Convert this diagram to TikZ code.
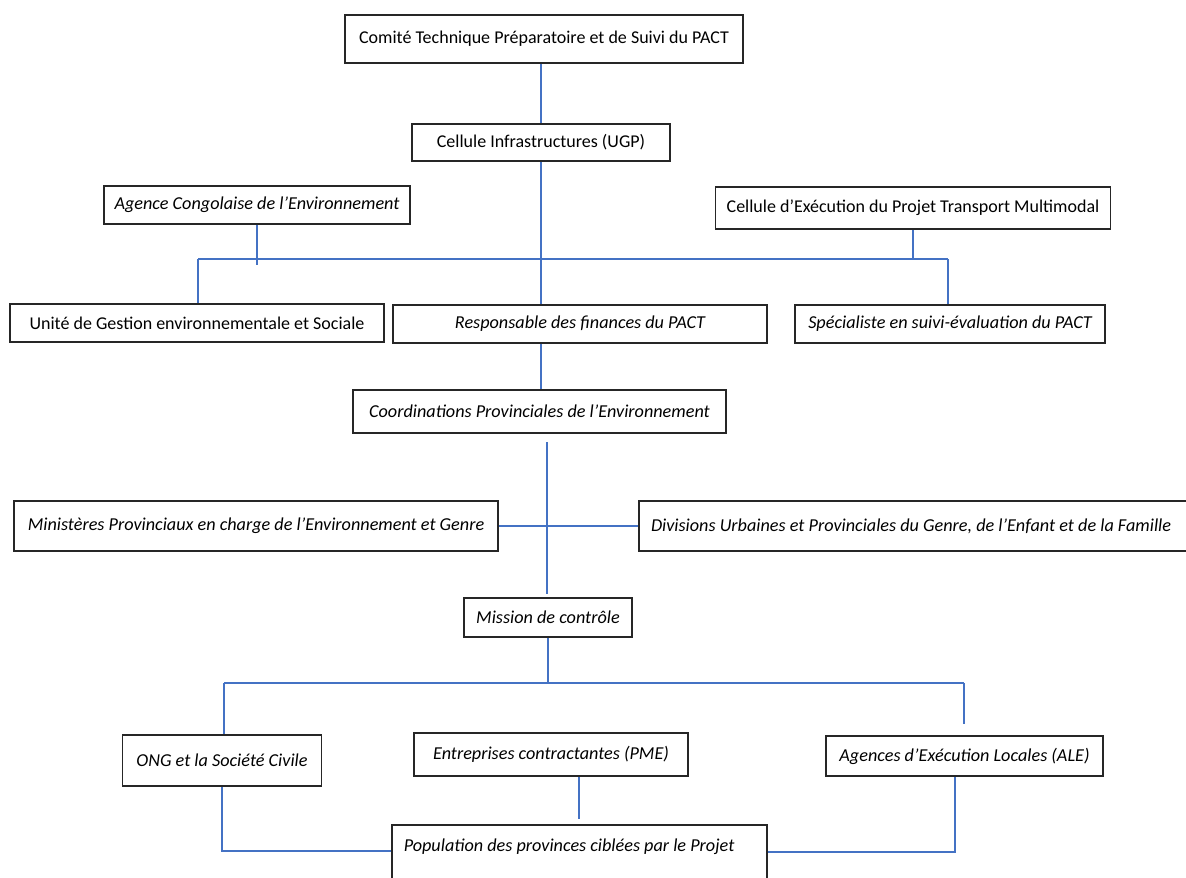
\documentclass[tikz,border=0pt]{standalone}
\usepackage{fontspec}
\setmainfont{Carlito}
\definecolor{linkblue}{HTML}{4472C4}
\definecolor{boxline}{HTML}{262626}
\begin{document}
\begin{tikzpicture}[x=1pt,y=-1pt,
  box/.style={draw=boxline, line width=1.5pt, inner sep=0pt, fill=white,
    font=\fontsize{18}{21}\selectfont},
  itbox/.style={box, font=\fontsize{18.2}{21}\selectfont\itshape},
  leftbox/.style={inner xsep=12pt},
  link/.style={draw=linkblue, line width=1.4pt}]
\useasboundingbox (0,0) rectangle (1186,878);
\clip (0,0) rectangle (1186,878);

% boxes
\node[box, minimum width=398pt, minimum height=48pt] (comite) at (544,39) {Comité Technique Préparatoire et de Suivi du PACT};
\node[box, minimum width=258pt, minimum height=37pt] (infra) at (541,142.5) {Cellule Infrastructures (UGP)};
\node[itbox, minimum width=306pt, minimum height=38pt] (agence) at (257,205) {Agence Congolaise de l’Environnement};
\node[box, minimum width=395pt, minimum height=42pt] (exec) at (913,208) {Cellule d’Exécution du Projet Transport Multimodal};
\node[box, minimum width=374pt, minimum height=38pt] (unite) at (197,323) {Unité de Gestion environnementale et Sociale};
\node[itbox, minimum width=374pt, minimum height=38pt] (resp) at (580,324) {Responsable des finances du PACT};
\node[itbox, minimum width=310pt, minimum height=38pt] (spec) at (950,324) {Spécialiste en suivi-évaluation du PACT};
\node[itbox, minimum width=373pt, minimum height=43pt] (coord) at (539.5,411.5) {Coordinations Provinciales de l’Environnement};
\node[itbox, minimum width=484pt, minimum height=50pt] (minis) at (256,526) {Ministères Provinciaux en charge de l’Environnement et Genre};
\node[itbox, leftbox, minimum height=50pt] (divis) at (919.5,526) {\makebox[537pt][l]{Divisions Urbaines et Provinciales du Genre, de l’Enfant et de la Famille}};
\node[itbox, minimum width=168pt, minimum height=39pt] (mission) at (548,617.5) {Mission de contrôle};
\node[itbox, minimum width=199pt, minimum height=51pt] (ong) at (222,760.5) {ONG et la Société Civile};
\node[itbox, minimum width=274pt, minimum height=43pt] (pme) at (551,754.5) {Entreprises contractantes (PME)};
\node[itbox, minimum width=277pt, minimum height=40pt] (ale) at (964.5,756) {Agences d’Exécution Locales (ALE)};
\node[itbox, leftbox, text height=27pt, text depth=49pt, anchor=north west] (popu) at (391,824) {\makebox[351pt][l]{Population des provinces ciblées par le Projet}};

% connectors
\draw[link] (comite.south -| infra.north) -- (infra.north);
\draw[link] (infra.south) -- (infra.south |- resp.north);
\coordinate (busL) at (198,259);
\coordinate (busR) at (948,259);
\draw[link] (busL) -- (busR);
\draw[link] (busL) -- (busL |- unite.north);
\draw[link] (agence.south) -- ++(0,40);
\draw[link] (exec.south) -- (exec.south |- busR);
\draw[link] (busR) -- (busR |- spec.north);
\draw[link] (infra.south |- resp.south) -- (infra.south |- coord.north);
\coordinate (cTop) at (547,442);
\coordinate (cBot) at (547,594);
\draw[link] (cTop) -- (cBot);
\draw[link] (minis.east) -- (divis.west);
\coordinate (b2L) at (224,683);
\coordinate (b2R) at (964,683);
\draw[link] (mission.south) -- (mission.south |- b2L);
\draw[link] (b2L) -- (b2R);
\draw[link] (b2L) -- (b2L |- ong.north);
\draw[link] (b2R) -- ++(0,41);
\coordinate (pmeLink) at (579,819);
\draw[link] (pmeLink |- pme.south) -- (pmeLink);
\coordinate (popL) at ([yshift=-27pt]popu.north west);
\coordinate (popR) at ([yshift=-28pt]popu.north east);
\draw[link] (ong.south) |- (popL);
\draw[link] (popR) -| ([xshift=-9.5pt]ale.south);
\end{tikzpicture}
\end{document}
